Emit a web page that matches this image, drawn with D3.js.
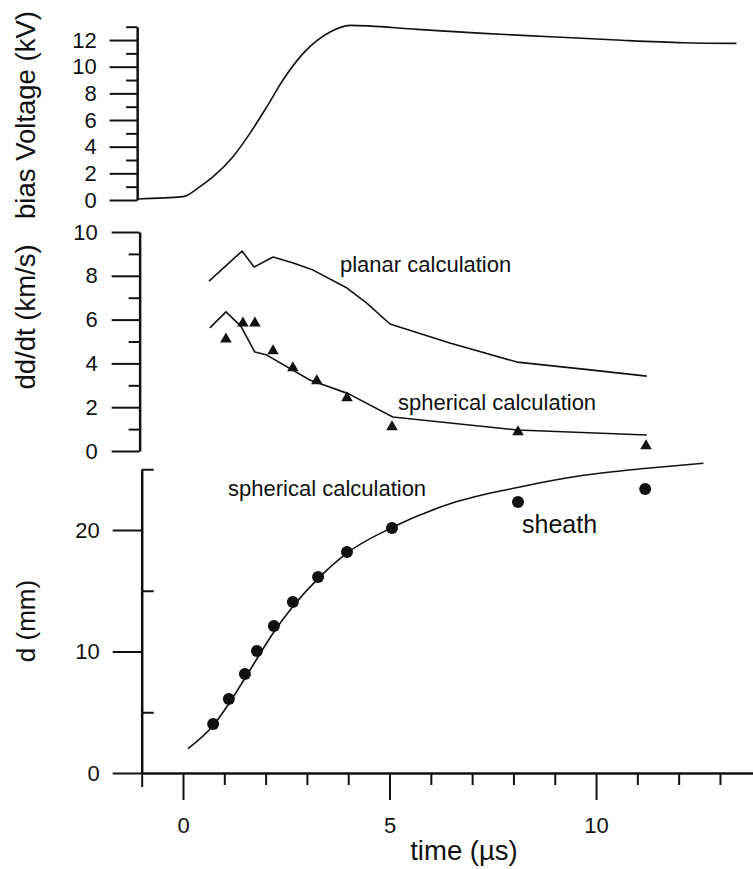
<!DOCTYPE html>
<html>
<head>
<meta charset="utf-8">
<script src="https://cdn.jsdelivr.net/npm/d3@7"></script>
<style>
  body { margin: 0; background: #fff; }
  svg { display: block; }
  text { font-family: "Liberation Sans", Arial, Helvetica, sans-serif; fill: #111; }
</style>
</head>
<body>
<svg id="chart" width="753" height="869"></svg>
<script>
// ---- bias voltage pulse (kV) ----
const biasTime = [-1.1, 0, 0.41, 0.73, 1.21, 1.62, 2.03, 2.42, 2.91, 3.56, 4.04, 5.67, 7.27, 8.89, 10.5, 12.1, 13.4];
const biasKV   = [0.08, 0.25, 1.0, 1.75, 3.25, 5.0, 7.0, 9.0, 11.0, 12.6, 13.1, 12.8, 12.5, 12.25, 12.0, 11.8, 11.75];

// ---- sheath velocity dd/dt (km/s) ----
const planarTime = [0.63, 1.43, 1.72, 2.18, 2.67, 3.15, 3.97, 4.45, 5.01, 6.46, 8.09, 9.69, 11.23];
const planarVel  = [7.76, 9.13, 8.40, 8.86, 8.58, 8.26, 7.44, 6.75, 5.80, 4.93, 4.06, 3.74, 3.42];

const sphVelTime = [0.65, 1.04, 1.40, 1.74, 2.03, 3.07, 4.0, 5.08, 8.09, 11.23];
const sphVel     = [5.62, 6.35, 5.70, 4.52, 4.38, 3.24, 2.62, 1.55, 0.96, 0.73];

const measVelTime = [1.04, 1.45, 1.74, 2.18, 2.66, 3.24, 3.97, 5.06, 8.11, 11.21];
const measVel     = [5.11, 5.84, 5.84, 4.57, 3.79, 3.20, 2.42, 1.10, 0.87, 0.23];

// ---- sheath thickness d (mm) ----
const sphDTime = [0.12, 0.73, 1.11, 1.5, 1.79, 2.2, 2.66, 3.27, 3.97, 5.06, 6.5, 8.1, 9.7, 11.3, 12.6];
const sphD     = [2.0, 3.9, 5.7, 7.8, 9.4, 11.6, 13.7, 16.0, 18.1, 20.2, 22.2, 23.5, 24.5, 25.1, 25.5];

const sheathTime = [0.73, 1.11, 1.50, 1.79, 2.20, 2.66, 3.27, 3.97, 5.06, 8.11, 11.19];
const sheathD    = [4.03, 6.09, 8.15, 10.04, 12.1, 14.07, 16.13, 18.19, 20.16, 22.3, 23.37];

// ---- tick labels ----
const biasMajorTicks = [0, 2, 4, 6, 8, 10, 12];
const biasMinorTicks = [1, 3, 5, 7, 9, 11, 13];
const velMajorTicks  = [0, 2, 4, 6, 8, 10];
const velMinorTicks  = [1, 3, 5, 7, 9];
const dMajorTicks    = [0, 10, 20];
const dMinorTicks    = [5, 15, 25];
const timeMajorTicks = [0, 5, 10];
const timeMinorTicks = [1, 2, 3, 4, 6, 7, 8, 9, 11, 12, 13];

const svg = d3.select("#chart");

// shared time axis
const x = d3.scaleLinear().domain([-1, 13.8]).range([141.7, 753]);

// panel value scales
const yBias = d3.scaleLinear().domain([0, 13]).range([200, 26.7]);
const yVel  = d3.scaleLinear().domain([0, 10]).range([451, 232]);
const yD    = d3.scaleLinear().domain([0, 25]).range([773, 469.25]);

const fmt = d3.format("d");

function styleAxis(g, width) {
  g.selectAll("path.domain").attr("stroke", "#111").attr("stroke-width", width);
  g.selectAll(".tick line").attr("stroke", "#111").attr("stroke-width", 2);
  g.selectAll(".tick text").attr("font-size", 22).attr("fill", "#111")
    .style("font-family", '"Liberation Sans", Arial, sans-serif');
}

// vertical axis with long labelled major ticks and short minor ticks
function leftAxis(scale, xPos, majors, minors, majorLen, pad) {
  const gMin = svg.append("g").attr("transform", `translate(${xPos},0)`)
    .call(d3.axisLeft(scale).tickValues(minors).tickSize(11).tickSizeOuter(0).tickFormat(""));
  gMin.select("path.domain").remove();
  styleAxis(gMin, 2.5);
  const gMaj = svg.append("g").attr("transform", `translate(${xPos},0)`)
    .call(d3.axisLeft(scale).tickValues(majors).tickSize(majorLen).tickSizeOuter(0)
      .tickPadding(pad).tickFormat(fmt));
  styleAxis(gMaj, 2.5);
  return gMaj;
}

// top panel: bias voltage
leftAxis(yBias, x(-1.11), biasMajorTicks, biasMinorTicks, 27.5, 13);
// middle panel: velocity
leftAxis(yVel, x(-1.05), velMajorTicks, velMinorTicks, 28, 14);

// bottom panel: thickness (minor ticks point inward)
const gDMin = svg.append("g").attr("transform", `translate(${x(-1)},0)`)
  .call(d3.axisRight(yD).tickValues(dMinorTicks).tickSize(12).tickSizeOuter(0).tickFormat(""));
gDMin.select("path.domain").remove();
styleAxis(gDMin, 2.5);
const gDMaj = svg.append("g").attr("transform", `translate(${x(-1)},0)`)
  .call(d3.axisLeft(yD).tickValues(dMajorTicks).tickSize(29).tickSizeOuter(0)
    .tickPadding(13).tickFormat(fmt));
styleAxis(gDMaj, 2.5);

// time axis along the bottom panel
const gTMin = svg.append("g").attr("transform", `translate(0,${yD(0)})`)
  .call(d3.axisBottom(x).tickValues(timeMinorTicks).tickSize(12).tickSizeOuter(0).tickFormat(""));
styleAxis(gTMin, 2.5);
const gTEdge = svg.append("g").attr("transform", `translate(0,${yD(0)})`)
  .call(d3.axisBottom(x).tickValues([-1]).tickSize(14).tickSizeOuter(0).tickFormat(""));
gTEdge.select("path.domain").remove();
styleAxis(gTEdge, 2.5);
const gTMaj = svg.append("g").attr("transform", `translate(0,${yD(0)})`)
  .call(d3.axisBottom(x).tickValues(timeMajorTicks).tickSize(27).tickSizeOuter(0)
    .tickPadding(17).tickFormat(fmt));
gTMaj.select("path.domain").remove();
styleAxis(gTMaj, 2.5);

// data curves
function curve(ts, vs, yScale) {
  const pts = ts.map((t, i) => [t, vs[i]]);
  svg.append("path")
    .datum(pts)
    .attr("fill", "none")
    .attr("stroke", "#111")
    .attr("stroke-width", 1.6)
    .attr("stroke-linejoin", "round")
    .attr("d", d3.line().x(d => x(d[0])).y(d => yScale(d[1])).curve(d3.curveMonotoneX));
}
function polyline(ts, vs, yScale) {
  const pts = ts.map((t, i) => [t, vs[i]]);
  svg.append("path")
    .datum(pts)
    .attr("fill", "none")
    .attr("stroke", "#111")
    .attr("stroke-width", 1.6)
    .attr("stroke-linejoin", "round")
    .attr("d", d3.line().x(d => x(d[0])).y(d => yScale(d[1])));
}

curve(biasTime, biasKV, yBias);
polyline(planarTime, planarVel, yVel);
polyline(sphVelTime, sphVel, yVel);
curve(sphDTime, sphD, yD);

// measured velocity (triangles)
svg.append("g").selectAll("path")
  .data(measVelTime.map((t, i) => [t, measVel[i]]))
  .join("path")
  .attr("transform", d => `translate(${x(d[0])},${yVel(d[1])})`)
  .attr("d", d3.symbol(d3.symbolTriangle, 58))
  .attr("fill", "#111");

// measured sheath thickness (dots)
svg.append("g").selectAll("circle")
  .data(sheathTime.map((t, i) => [t, sheathD[i]]))
  .join("circle")
  .attr("cx", d => x(d[0]))
  .attr("cy", d => yD(d[1]))
  .attr("r", 6)
  .attr("fill", "#111");

// annotations
svg.append("text").attr("x", 340).attr("y", 271.5).attr("font-size", 22).text("planar calculation");
svg.append("text").attr("x", 398).attr("y", 410).attr("font-size", 22).text("spherical calculation");
svg.append("text").attr("x", 228).attr("y", 496).attr("font-size", 22).text("spherical calculation");
svg.append("text").attr("x", 522).attr("y", 533).attr("font-size", 25).text("sheath");

// axis titles
function vTitle(txt, cx, cy, size) {
  svg.append("text")
    .attr("transform", `translate(${cx},${cy}) rotate(-90)`)
    .attr("text-anchor", "middle")
    .attr("font-size", size)
    .text(txt);
}
vTitle("bias Voltage (kV)", 35, 115, 27.5);
vTitle("dd/dt (km/s)", 35, 317, 27.5);
vTitle("d (mm)", 35, 621, 26);

svg.append("text")
  .attr("x", 464).attr("y", 860)
  .attr("text-anchor", "middle")
  .attr("font-size", 27.5)
  .text("time (µs)");
</script>
</body>
</html>
